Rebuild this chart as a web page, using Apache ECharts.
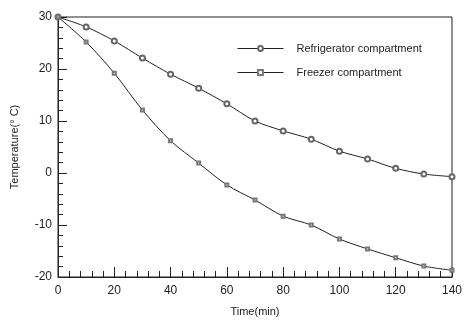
<!DOCTYPE html>
<html><head><meta charset="utf-8">
<script src="https://cdn.jsdelivr.net/npm/echarts@6/dist/echarts.min.js"></script>
<style>html,body{margin:0;padding:0;background:#fff}#c{width:465px;height:324px}</style>
</head><body><div id="c"></div>
<script>
const times = [0,10,20,30,40,50,60,70,80,90,100,110,120,130,140];
const refrigerator = [30,28.1,25.4,22.1,19.0,16.3,13.3,10.0,8.1,6.5,4.2,2.7,0.9,-0.2,-0.7];
const freezer = [30,25.2,19.2,12.1,6.2,1.9,-2.3,-5.2,-8.3,-10.0,-12.7,-14.6,-16.3,-17.9,-18.7];
const seriesNames = ['Refrigerator compartment','Freezer compartment'];
const xName = 'Time(min)';
const yName = 'Temperature(\u00B0 C)';

const font = 'Liberation Sans, Arial, sans-serif';
const ink = '#222';
const chart = echarts.init(document.getElementById('c'));
function pairs(arr){ return times.map((t,i)=>[t,arr[i]]); }
chart.setOption({
  animation:false,
  grid:{left:58,right:12,top:17,bottom:47,show:true,borderColor:ink,borderWidth:1},
  legend:{
    left:232, top:38, orient:'vertical', itemGap:13, itemWidth:46, itemHeight:6,
    lineStyle:{width:1},
    textStyle:{fontFamily:font,fontSize:11,color:ink,padding:[0,0,0,8]},
    data:seriesNames
  },
  xAxis:{
    type:'value',min:0,max:140,interval:20,
    name:xName,nameLocation:'middle',nameGap:29,
    nameTextStyle:{fontFamily:font,fontSize:11,color:ink},
    axisLine:{onZero:false,lineStyle:{color:ink}},
    axisTick:{inside:true,length:10,lineStyle:{color:ink}},
    minorTick:{show:true,splitNumber:5,length:6,lineStyle:{color:ink}},
    axisLabel:{fontFamily:font,fontSize:12,color:ink,margin:8},
    splitLine:{show:false}
  },
  yAxis:{
    type:'value',min:-20,max:30,interval:10,
    name:yName,nameLocation:'middle',nameGap:38,
    nameTextStyle:{fontFamily:font,fontSize:11,color:ink},
    axisLine:{show:true,onZero:false,lineStyle:{color:ink}},
    axisTick:{show:true,inside:true,length:9,lineStyle:{color:ink}},
    minorTick:{show:true,splitNumber:5,length:5,lineStyle:{color:ink}},
    axisLabel:{fontFamily:font,fontSize:12,color:ink,margin:6},
    splitLine:{show:false}
  },
  series:[
    {name:seriesNames[0],type:'line',data:pairs(refrigerator),smooth:0.3,
     symbol:'emptyCircle',symbolSize:5,
     lineStyle:{color:ink,width:1},itemStyle:{color:'#666',borderColor:'#666',borderWidth:0.7}},
    {name:seriesNames[1],type:'line',data:pairs(freezer),smooth:0.3,
     symbol:'emptyRect',symbolSize:3,
     lineStyle:{color:ink,width:1},itemStyle:{color:'#777',borderColor:'#777',borderWidth:0.6}}
  ]
});
</script></body></html>
